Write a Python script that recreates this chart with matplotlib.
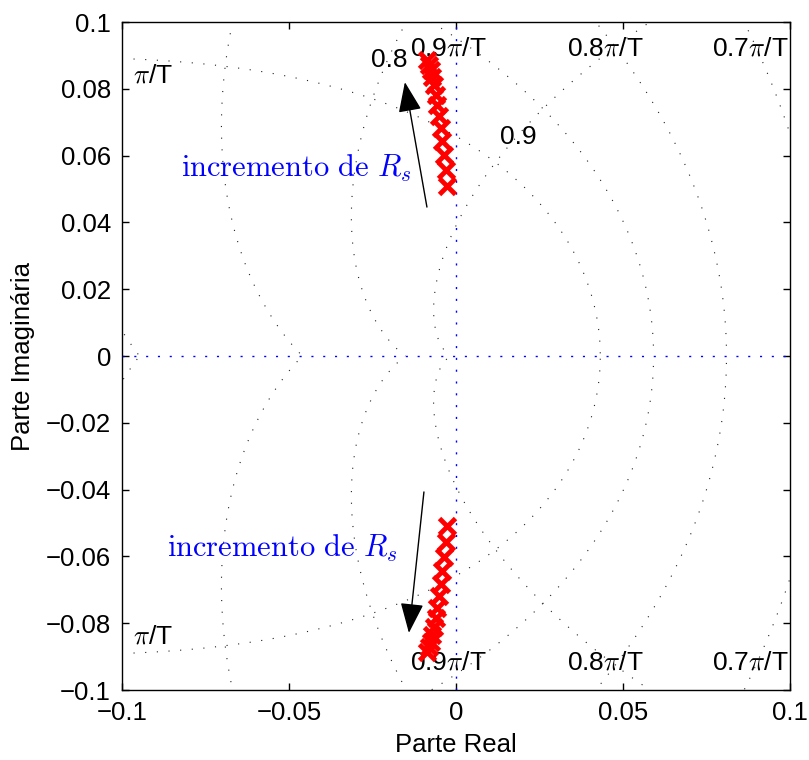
import numpy as np
import matplotlib
matplotlib.use("Agg")
import matplotlib.pyplot as plt

plt.rcParams['font.family'] = ['Liberation Sans', 'DejaVu Sans']
plt.rcParams['mathtext.fontset'] = 'cm'
plt.rcParams['axes.unicode_minus'] = True

# Closed-loop poles (upper branch; lower branch is the complex conjugate)
pole_real = [-0.0026, -0.0031, -0.0036, -0.0041, -0.0046, -0.0051, -0.0056,
             -0.0061, -0.0066, -0.0071, -0.0076, -0.0081, -0.0086]
pole_imag = [0.0510, 0.0558, 0.0603, 0.0645, 0.0684, 0.0720, 0.0753,
             0.0783, 0.0810, 0.0834, 0.0855, 0.0872, 0.0886]

# z-plane grid: damping ratios and natural frequencies (in units of pi/T)
damping_ratios = [0.0, 0.1, 0.2, 0.3, 0.4, 0.5, 0.6, 0.7, 0.8, 0.9]
nat_freqs = [0.1, 0.2, 0.3, 0.4, 0.5, 0.6, 0.7, 0.8, 0.9, 1.0]

x_ticks = [-0.1, -0.05, 0, 0.05, 0.1]
x_ticklabels = ['\u22120.1', '\u22120.05', '0', '0.05', '0.1']
y_ticks = [-0.1, -0.08, -0.06, -0.04, -0.02, 0, 0.02, 0.04, 0.06, 0.08, 0.1]
y_ticklabels = ['\u22120.1', '\u22120.08', '\u22120.06', '\u22120.04', '\u22120.02', '0',
                '0.02', '0.04', '0.06', '0.08', '0.1']

fig = plt.figure(figsize=(8.09, 7.6), dpi=100)
ax = fig.add_axes([0.1508, 0.0921, 0.8257, 0.8789])

grid_style = dict(color='#222222', lw=0.8, linestyle=(0, (1, 9.5)))

# constant-damping spirals
theta = np.linspace(0, np.pi, 4000)
for zeta in damping_ratios:
    r = np.exp(-zeta * theta / np.sqrt(1 - zeta ** 2))
    z = r * np.exp(1j * theta)
    ax.plot(z.real, z.imag, **grid_style)
    ax.plot(z.real, -z.imag, **grid_style)

# constant natural-frequency curves
zz = np.linspace(0, 1, 4000)
for wn in nat_freqs:
    w = wn * np.pi
    z = np.exp(-zz * w) * np.exp(1j * w * np.sqrt(1 - zz ** 2))
    ax.plot(z.real, z.imag, **grid_style)
    ax.plot(z.real, -z.imag, **grid_style)

# real and imaginary axes
axis_style = dict(color='#0000ff', lw=1.0, linestyle=(0, (1.5, 7)))
ax.axhline(0, **axis_style)
ax.axvline(0, **axis_style)

# poles
ax.plot(pole_real, pole_imag, linestyle='none', marker='x', color='#ff0000',
        ms=11, mew=3.5, zorder=5)
ax.plot(pole_real, [-v for v in pole_imag], linestyle='none', marker='x',
        color='#ff0000', ms=11, mew=3.5, zorder=5)

# grid labels
lab_fs = 19
ax.text(-0.0967, 0.0841, r'$\pi$/T', ha='left', va='center', fontsize=lab_fs)
ax.text(-0.0967, -0.0841, r'$\pi$/T', ha='left', va='center', fontsize=lab_fs)
ax.text(-0.0201, 0.0886, '0.8', ha='center', va='center', fontsize=lab_fs)
ax.text(0.0186, 0.0656, '0.9', ha='center', va='center', fontsize=lab_fs)
for xc, lab in [(-0.0024, r'0.9$\pi$/T'), (0.0446, r'0.8$\pi$/T'), (0.088, r'0.7$\pi$/T')]:
    ax.text(xc, 0.0922, lab, ha='center', va='center', fontsize=lab_fs)
    ax.text(xc, -0.0919, lab, ha='center', va='center', fontsize=lab_fs)

# annotations
ann_fs = 22
ax.text(-0.0479, 0.0563, r'$\mathrm{incremento\ de}\ R_s$', color='#0000ff',
        ha='center', va='center', fontsize=ann_fs)
ax.text(-0.0521, -0.0575, r'$\mathrm{incremento\ de}\ R_s$', color='#0000ff',
        ha='center', va='center', fontsize=ann_fs)
arrow_props = dict(arrowstyle='-|>,head_length=0.75,head_width=0.29',
                   mutation_scale=25, lw=1.0, color='black',
                   shrinkA=0, shrinkB=0)
ax.annotate('', xy=(-0.0153, 0.082), xytext=(-0.0087, 0.0446),
            arrowprops=arrow_props)
ax.annotate('', xy=(-0.0141, -0.0829), xytext=(-0.0096, -0.0407),
            arrowprops=arrow_props)

ax.set_xlim(-0.1, 0.1)
ax.set_ylim(-0.1, 0.1)
ax.set_xticks(x_ticks)
ax.set_xticklabels(x_ticklabels)
ax.set_yticks(y_ticks)
ax.set_yticklabels(y_ticklabels)
ax.tick_params(direction='in', length=5, width=1, top=True, right=True,
               labelsize=18.5, pad=8)
for s in ax.spines.values():
    s.set_linewidth(1.0)
ax.set_xlabel('Parte Real', fontsize=18.5, labelpad=6)
ax.set_ylabel('Parte Imaginária', fontsize=18.5, labelpad=8)

fig.savefig('out.png', dpi=100)
